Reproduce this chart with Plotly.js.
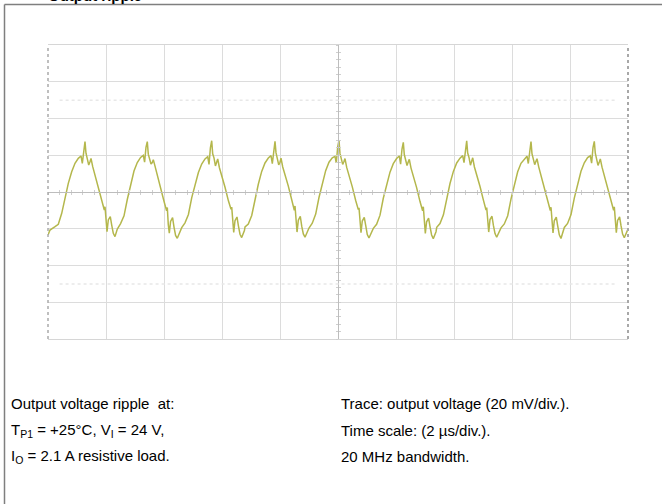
<!DOCTYPE html>
<html><head><meta charset="utf-8">
<script src="https://cdn.plot.ly/plotly-3.0.1.min.js"></script>
<style>html,body{margin:0;padding:0;background:#fff;overflow:hidden}#chart{width:662px;height:504px;}</style>
</head><body><div id="chart"></div>
<script>
// Time in microseconds (2 µs/div, 10 divisions)
const timeUs = [
0.000, 0.069,
0.242, 0.355, 0.473, 0.586, 0.700, 0.817, 0.931, 1.045, 1.138, 1.183, 1.231, 1.276, 1.310, 1.355, 1.404, 1.448, 1.483, 1.542, 1.621, 1.735, 1.852, 1.942, 1.966, 2.000, 2.035, 2.079, 2.148, 2.197, 2.252, 2.310,
2.390, 2.503, 2.621, 2.734, 2.848, 2.965, 3.079, 3.193, 3.286, 3.331, 3.379, 3.424, 3.458, 3.503, 3.552, 3.596, 3.631, 3.690, 3.769, 3.883, 4.000, 4.090, 4.114, 4.148, 4.183, 4.227, 4.296, 4.345, 4.400, 4.458, 4.552,
4.611, 4.724, 4.842, 4.955, 5.069, 5.186, 5.300, 5.414, 5.507, 5.552, 5.600, 5.645, 5.679, 5.724, 5.773, 5.817, 5.852, 5.911, 5.990, 6.104, 6.221, 6.311, 6.335, 6.369, 6.404, 6.448, 6.517, 6.566, 6.621, 6.679, 6.773,
6.794, 6.907, 7.025, 7.138, 7.252, 7.369, 7.483, 7.597, 7.690, 7.735, 7.783, 7.828, 7.862, 7.907, 7.956, 8.000, 8.035, 8.094, 8.173, 8.287, 8.404, 8.494, 8.518, 8.552, 8.587, 8.631, 8.700, 8.749, 8.804, 8.862, 8.956,
9.000, 9.113, 9.231, 9.344, 9.458, 9.575, 9.689, 9.803, 9.896, 9.941, 9.989, 10.034, 10.068, 10.113, 10.162, 10.206, 10.241, 10.300, 10.379, 10.493, 10.610, 10.700, 10.724, 10.758, 10.793, 10.837, 10.906, 10.955, 11.010, 11.068, 11.162,
11.218, 11.331, 11.449, 11.562, 11.676, 11.793, 11.907, 12.021, 12.114, 12.159, 12.207, 12.252, 12.286, 12.331, 12.380, 12.424, 12.459, 12.518, 12.597, 12.711, 12.828, 12.918, 12.942, 12.976, 13.011, 13.055, 13.124, 13.173, 13.228, 13.286, 13.380,
13.404, 13.517, 13.635, 13.748, 13.862, 13.979, 14.093, 14.207, 14.300, 14.345, 14.393, 14.438, 14.472, 14.517, 14.566, 14.610, 14.645, 14.704, 14.783, 14.897, 15.014, 15.104, 15.128, 15.162, 15.197, 15.241, 15.310, 15.359, 15.414, 15.472, 15.566,
15.621, 15.734, 15.852, 15.965, 16.079, 16.196, 16.310, 16.424, 16.517, 16.562, 16.610, 16.655, 16.689, 16.734, 16.783, 16.827, 16.862, 16.921, 17.000, 17.114, 17.231, 17.321, 17.345, 17.379, 17.414, 17.458, 17.527, 17.576, 17.631, 17.689, 17.783,
17.804, 17.917, 18.035, 18.148, 18.262, 18.379, 18.493, 18.607, 18.700, 18.745, 18.793, 18.838, 18.872, 18.917, 18.966, 19.010, 19.045, 19.104, 19.183, 19.297, 19.414, 19.504, 19.528, 19.562, 19.597, 19.641, 19.710, 19.759, 19.814, 19.872, 19.966,
20.000
];
// Output voltage ripple in mV (20 mV/div)
const rippleMv = [
-23.4, -20.7,
-18.9, -17.6, -11.6, -2.6, 4.7, 11.0, 15.6, 18.3, 19.6, 15.6, 23.8, 27.4, 21.1, 18.3, 14.7, 16.5, 18.3, 13.8, 9.3, 2.9, -4.4, -9.8, -8.0, -17.0, -21.6, -15.2, -13.4, -18.0, -22.5, -24.3,
-20.2, -17.2, -13.0, -4.1, 3.8, 11.4, 16.0, 18.8, 19.9, 16.2, 24.3, 27.4, 20.6, 17.8, 15.2, 16.0, 17.6, 14.1, 8.9, 2.2, -5.0, -10.3, -8.4, -17.8, -22.4, -16.0, -14.0, -19.1, -23.6, -25.2, -21.3,
-19.4, -16.8, -12.2, -3.2, 4.4, 10.6, 15.2, 18.0, 19.2, 15.0, 24.0, 27.9, 20.8, 18.6, 14.2, 16.8, 18.0, 13.2, 9.0, 2.6, -4.8, -9.4, -8.2, -16.6, -22.0, -15.6, -13.6, -18.4, -23.0, -24.8, -21.0,
-19.0, -17.4, -12.8, -3.8, 4.2, 11.2, 15.8, 18.5, 19.8, 15.4, 23.6, 27.6, 21.4, 18.2, 14.8, 16.2, 18.4, 13.6, 9.6, 3.2, -4.2, -10.0, -7.6, -17.2, -21.8, -15.4, -13.2, -18.6, -22.8, -24.6, -20.8,
-19.6, -17.0, -12.0, -3.0, 4.8, 11.6, 16.2, 18.6, 19.4, 15.8, 24.4, 28.2, 21.0, 18.4, 15.0, 16.6, 18.2, 13.4, 9.2, 2.8, -4.6, -9.6, -8.6, -17.4, -22.2, -15.8, -13.8, -18.2, -23.2, -25.0, -21.4,
-19.8, -17.6, -12.6, -3.4, 4.0, 10.8, 15.4, 18.2, 19.6, 15.2, 23.4, 27.0, 20.4, 18.0, 14.4, 16.4, 17.8, 13.0, 8.8, 2.4, -5.2, -10.2, -8.0, -17.6, -22.6, -16.2, -14.2, -18.8, -23.4, -25.4, -21.6,
-19.2, -17.2, -12.4, -3.6, 4.6, 11.2, 15.8, 18.4, 19.8, 16.0, 24.2, 27.8, 21.2, 18.8, 14.6, 16.4, 18.6, 13.6, 9.4, 3.0, -4.4, -9.8, -8.4, -17.0, -21.8, -15.0, -13.2, -18.2, -22.6, -24.6, -20.9,
-19.5, -17.4, -12.9, -3.9, 4.1, 11.0, 15.6, 18.1, 19.5, 15.5, 23.9, 27.5, 20.9, 18.1, 14.9, 16.7, 18.1, 13.7, 9.1, 2.7, -4.9, -10.1, -8.3, -17.5, -22.3, -15.7, -13.7, -18.5, -23.3, -25.3, -21.2,
-19.3, -17.1, -12.3, -3.3, 4.5, 11.3, 15.9, 18.7, 19.7, 15.7, 24.1, 27.6, 21.1, 18.3, 14.5, 16.3, 18.0, 13.5, 9.0, 2.5, -4.7, -9.9, -8.1, -17.3, -22.1, -15.5, -13.5, -18.3, -22.9, -24.9, -21.1,
-20.2
];
const xRangeUs = [0, 20];
const yRangeMv = [-80, 80];
const headingText = 'Output ripple';
const noteLeft = [
  'Output voltage ripple \u00a0at:',
  'T<sub>P1</sub> = +25°C, V<sub>I</sub> = 24 V,',
  'I<sub>O</sub> = 2.1 A resistive load.'
];
const noteRight = [
  'Trace: output voltage (20 mV/div.).',
  'Time scale: (2 µs/div.).',
  '20 MHz bandwidth.'
];

const W = 662, H = 504, L = 48, R = 34, T = 45, B = 165;
const pw = W - L - R, ph = H - T - B;
const px2x = p => (p - L) / pw;
const py2y = p => (H - B - p) / ph;

const traceColor = '#b4b74c';
const gridColor = '#dcdcdc';
const centerColor = '#bdbdbd';

const data = [
  {type: 'scatter', mode: 'lines', x: timeUs, y: rippleMv,
   line: {color: traceColor, width: 1.5}, hoverinfo: 'skip', showlegend: false},
  {type: 'scatter', mode: 'markers', x: [timeUs[0]], y: [rippleMv[0]], xaxis: 'x2', yaxis: 'y',
   marker: {opacity: 0}, hoverinfo: 'skip', showlegend: false},
  {type: 'scatter', mode: 'markers', x: [timeUs[0]], y: [rippleMv[0]], xaxis: 'x3', yaxis: 'y',
   marker: {opacity: 0}, hoverinfo: 'skip', showlegend: false},
  {type: 'scatter', mode: 'markers', x: [timeUs[0]], y: [rippleMv[0]], xaxis: 'x', yaxis: 'y2',
   marker: {opacity: 0}, hoverinfo: 'skip', showlegend: false},
  {type: 'scatter', mode: 'markers', x: [timeUs[0]], y: [rippleMv[0]], xaxis: 'x', yaxis: 'y3',
   marker: {opacity: 0}, hoverinfo: 'skip', showlegend: false}
];

const centerAxisX = (ticks) => ({
  overlaying: 'x', anchor: 'free', position: 0.5, range: xRangeUs,
  showline: ticks === 'outside', linecolor: centerColor, linewidth: 1,
  ticks: ticks, ticklen: 2, tickwidth: 1, tickcolor: '#cfcfcf', tick0: 0, dtick: 0.4,
  showticklabels: false, showgrid: false, zeroline: false, fixedrange: true
});
const centerAxisY = (ticks) => ({
  overlaying: 'y', anchor: 'free', position: 0.5, range: yRangeMv,
  showline: ticks === 'outside', linecolor: centerColor, linewidth: 1,
  ticks: ticks, ticklen: 2, tickwidth: 1, tickcolor: '#cfcfcf', tick0: 0, dtick: 4,
  showticklabels: false, showgrid: false, zeroline: false, fixedrange: true
});

const annotations = [];
const rowsPx = [403, 430, 456];
noteLeft.forEach((t, i) => annotations.push({
  text: t, xref: 'paper', yref: 'paper', x: px2x(9), y: py2y(rowsPx[i]),
  xanchor: 'left', yanchor: 'middle', showarrow: false,
  font: {family: 'Liberation Sans, Arial, sans-serif', size: 15, color: '#000'}
}));
noteRight.forEach((t, i) => annotations.push({
  text: t, xref: 'paper', yref: 'paper', x: px2x(339), y: py2y(rowsPx[i]),
  xanchor: 'left', yanchor: 'middle', showarrow: false,
  font: {family: 'Liberation Sans, Arial, sans-serif', size: 15, color: '#000'}
}));
annotations.push({
  text: '<b>' + headingText + '</b>', xref: 'paper', yref: 'paper', x: px2x(46), y: py2y(-5),
  xanchor: 'left', yanchor: 'middle', showarrow: false,
  font: {family: 'Liberation Sans, Arial, sans-serif', size: 15, color: '#000'}
});

const shapes = [
  // outer frame
  {type: 'line', xref: 'paper', yref: 'paper', x0: px2x(4.5), x1: px2x(700), y0: py2y(4.5), y1: py2y(4.5),
   line: {color: '#7f7f7f', width: 1.5}},
  {type: 'line', xref: 'paper', yref: 'paper', x0: px2x(4.5), x1: px2x(4.5), y0: py2y(4.5), y1: py2y(520),
   line: {color: '#7f7f7f', width: 1.5}},
  // dashed screen edges
  {type: 'line', xref: 'paper', yref: 'paper', x0: 0, x1: 0, y0: 0, y1: 1,
   line: {color: '#aaaaaa', width: 1.5, dash: 'dot'}},
  {type: 'line', xref: 'paper', yref: 'paper', x0: 1, x1: 1, y0: 0, y1: 1,
   line: {color: '#a8a8a8', width: 2, dash: 'dot'}},
  // faint dotted level rows
  {type: 'line', xref: 'paper', yref: 'y', x0: 0.02, x1: 0.98, y0: 50, y1: 50,
   line: {color: '#e8e8e8', width: 1.5, dash: 'dot'}},
  {type: 'line', xref: 'paper', yref: 'y', x0: 0.02, x1: 0.98, y0: -50, y1: -50,
   line: {color: '#e8e8e8', width: 1.5, dash: 'dot'}}
];

const layout = {
  width: W, height: H,
  margin: {l: L, r: R, t: T, b: B, pad: 0},
  paper_bgcolor: '#ffffff', plot_bgcolor: '#ffffff',
  showlegend: false,
  xaxis: {range: xRangeUs, tick0: 0, dtick: 2, showgrid: true, gridcolor: gridColor, gridwidth: 1,
          zeroline: false, showticklabels: false, ticks: '', showline: true, linecolor: '#d6d6d6',
          linewidth: 1, mirror: true, fixedrange: true},
  yaxis: {range: yRangeMv, tick0: 0, dtick: 20, showgrid: true, gridcolor: gridColor, gridwidth: 1,
          zeroline: false, showticklabels: false, ticks: '', showline: false, fixedrange: true},
  xaxis2: centerAxisX('outside'),
  xaxis3: centerAxisX('inside'),
  yaxis2: centerAxisY('outside'),
  yaxis3: centerAxisY('inside'),
  shapes: shapes,
  annotations: annotations
};

Plotly.newPlot('chart', data, layout, {staticPlot: true, displayModeBar: false});
</script>
</body></html>
